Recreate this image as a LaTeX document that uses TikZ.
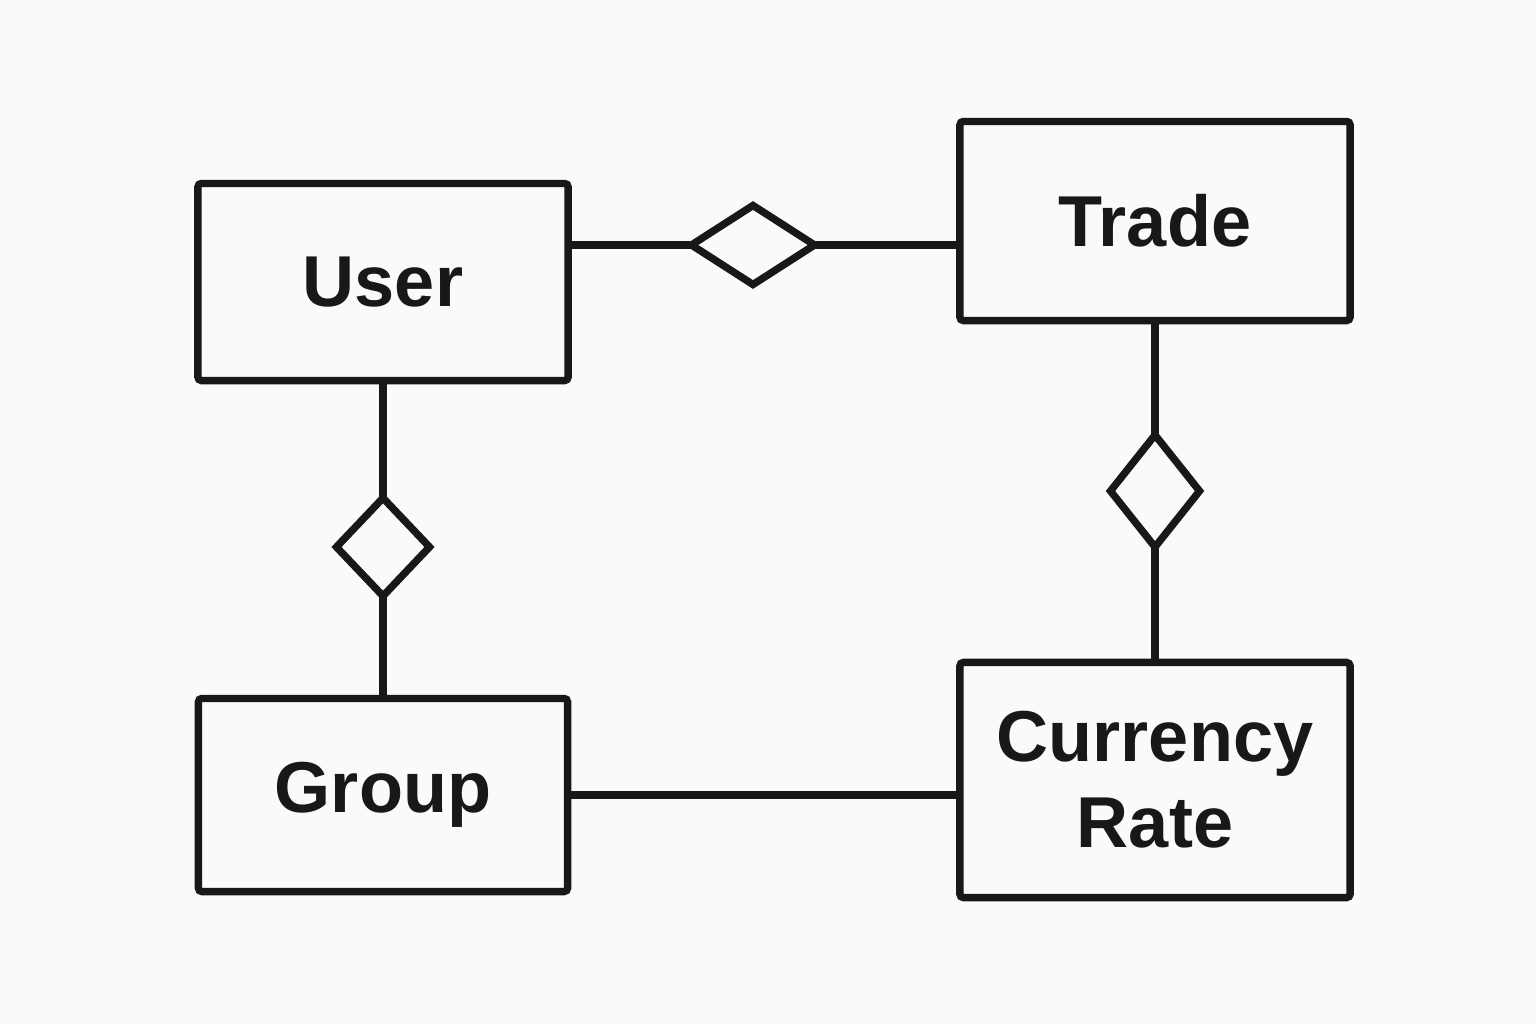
\documentclass[tikz,border=0pt]{standalone}
\usepackage{fontspec}
\setmainfont{Liberation Sans}
\usetikzlibrary{positioning,shapes.geometric}
\definecolor{erink}{RGB}{24,24,24}
\definecolor{erpaper}{RGB}{250,250,250}
\tikzset{
  entbox/.style={draw=erink,line width=2.1pt,rectangle,rounded corners=1pt,
    inner sep=0pt,align=center,font=\fontsize{20.5}{24.5}\selectfont\bfseries,text=erink},
  relbox/.style={draw=erink,line width=2.1pt,diamond,inner sep=0pt,outer sep=0pt,fill=erpaper},
  link/.style={draw=erink,line width=2.1pt},
}
\begin{document}
\begin{tikzpicture}[x=0.01cm,y=-0.01cm]
  \fill[erpaper] (0,0) rectangle (1536,1024);
  \useasboundingbox (0,0) rectangle (1536,1024);
  % entities
  \node[entbox,minimum width=3.70cm,minimum height=1.97cm] (user) at (383,282) {User};
  \node[entbox,minimum width=3.90cm,minimum height=1.99cm] (trade) at (1155,221) {Trade};
  \node[entbox,minimum width=3.69cm,minimum height=1.93cm] (group) at (383,795) {Group};
  \node[entbox,minimum width=3.90cm,minimum height=2.35cm] (rate) at (1155,780) {Currency\\Rate};
  % relationships
  \node[relbox,minimum width=1.23cm,minimum height=0.79cm] (ut) at (753,245) {};
  \node[relbox,minimum width=0.93cm,minimum height=0.98cm] (ug) at (383,547) {};
  \node[relbox,minimum width=0.89cm,minimum height=1.12cm] (tr) at (1155,491) {};
  % connectors
  \draw[link] (ut.west) -- (ut.west -| user.east);
  \draw[link] (ut.east) -- (ut.east -| trade.west);
  \draw[link] (user.south) -- (ug.north);
  \draw[link] (ug.south) -- (group.north);
  \draw[link] (trade.south) -- (tr.north);
  \draw[link] (tr.south) -- (rate.north);
  \draw[link] (group.east) -- (group.east -| rate.west);
\end{tikzpicture}
\end{document}
